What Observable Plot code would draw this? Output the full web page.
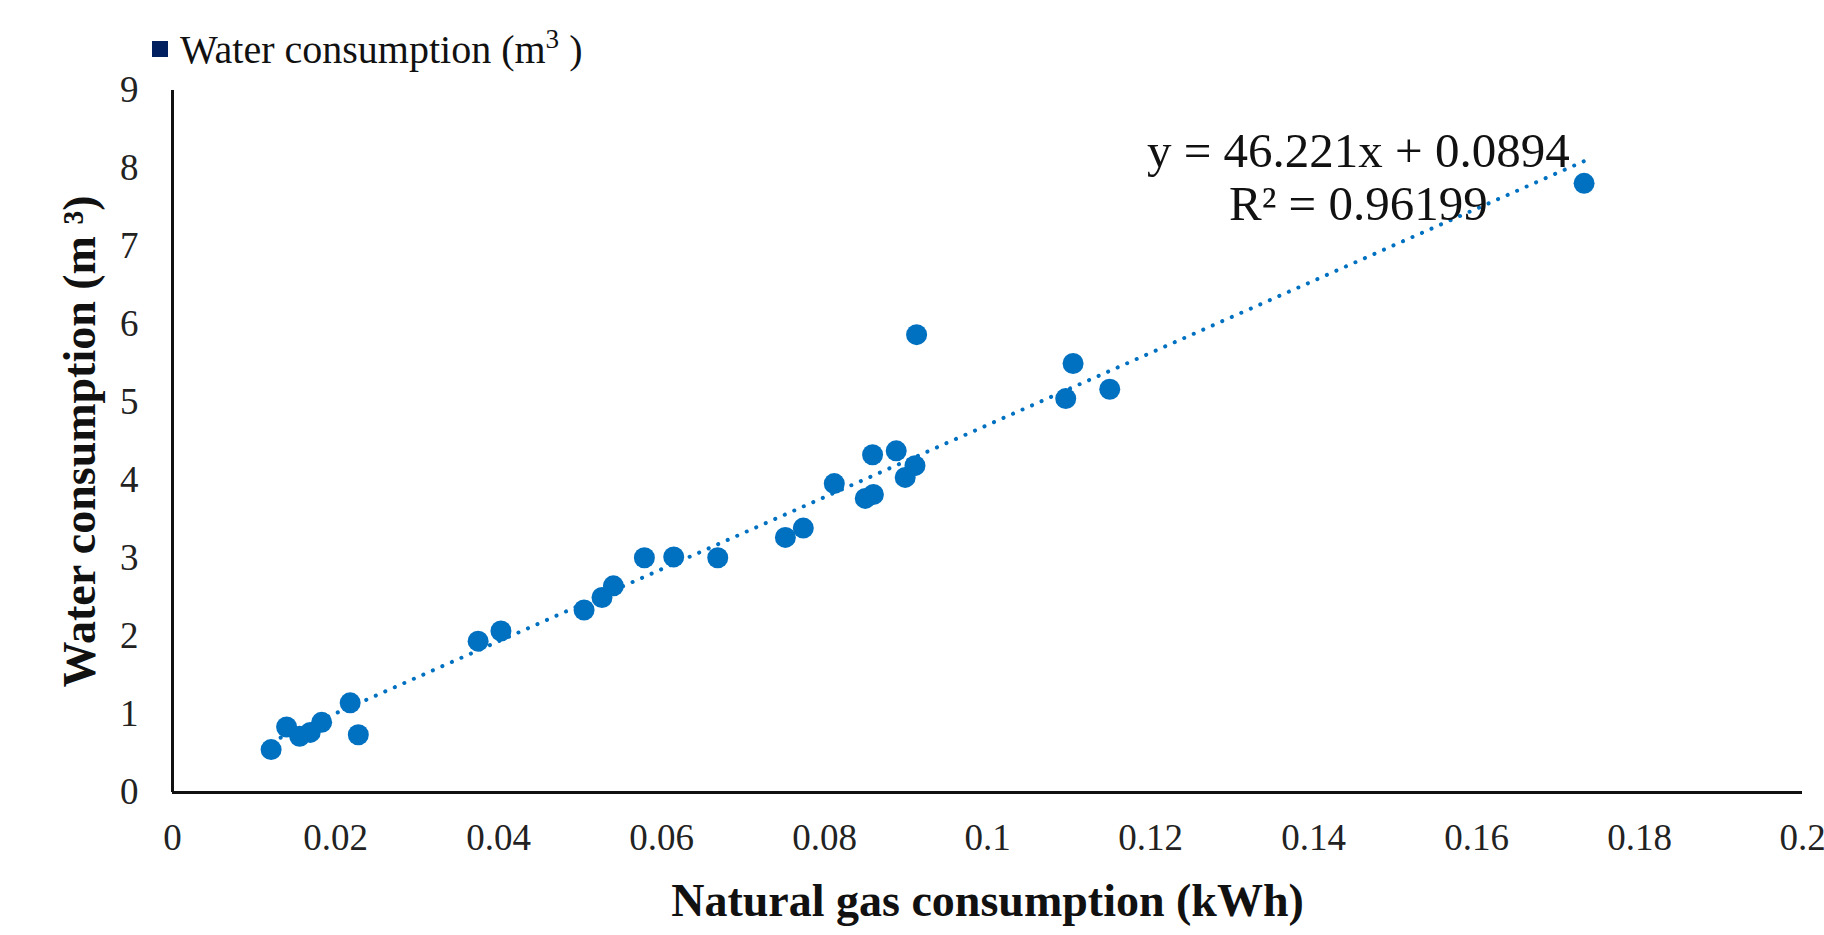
<!DOCTYPE html>
<html>
<head>
<meta charset="utf-8">
<script src="https://cdn.jsdelivr.net/npm/d3@7"></script>
<script src="https://cdn.jsdelivr.net/npm/@observablehq/plot@0.6"></script>
<style>
  html, body { margin: 0; padding: 0; background: #fff; }
  #legend { position: relative; height: 70px; width: 1824px; font-family: "Liberation Serif", serif; font-size: 40px; color: #111; }
  #legend .sw { position: absolute; left: 152px; top: 41px; width: 16px; height: 16px; background: #002060; }
  #legend .lb { position: absolute; left: 180px; top: 26px; line-height: 48px; white-space: nowrap; }
  #legend sup { font-size: 0.68em; vertical-align: 0.55em; line-height: 0; }
</style>
</head>
<body>
<div id="legend"><span class="sw"></span><span class="lb">Water consumption (m<sup>3</sup> )</span></div>
<div id="chart"></div>
<script>
// Natural gas consumption (kWh) — x values
const gas = [
  0.0121, 0.0140, 0.0156, 0.0169, 0.0183, 0.0218, 0.0228,
  0.0375, 0.0403, 0.0505, 0.0527, 0.0541, 0.0579, 0.0615, 0.0669,
  0.0752, 0.0774, 0.0812, 0.0850, 0.0860, 0.0859, 0.0888, 0.0899,
  0.0911, 0.0913, 0.1096, 0.1105, 0.1150, 0.1732
];
// Water consumption (m3) — y values
const water = [
  0.55, 0.84, 0.72, 0.77, 0.90, 1.15, 0.74,
  1.94, 2.07, 2.34, 2.50, 2.65, 3.01, 3.02, 3.01,
  3.27, 3.39, 3.96, 3.77, 3.82, 4.33, 4.38, 4.04,
  4.19, 5.87, 5.05, 5.50, 5.17, 7.81
];
const xTicks = [0, 0.02, 0.04, 0.06, 0.08, 0.1, 0.12, 0.14, 0.16, 0.18, 0.2];
const yTicks = [0, 1, 2, 3, 4, 5, 6, 7, 8, 9];
const slope = 46.221;
const intercept = 0.0894;
const equationText = "y = 46.221x + 0.0894\nR² = 0.96199";
const xTitle = "Natural gas consumption (kWh)";
const yTitle = "Water consumption (m ³)";

const points = gas.map((g, i) => ({gas: g, water: water[i]}));
const xExt = d3.extent(gas);
const trend = xExt.map(g => ({gas: g, water: slope * g + intercept}));

const blue = "#0070C0";
const chart = Plot.plot({
  width: 1824,
  height: 865,
  marginLeft: 172,
  marginRight: 22,
  marginTop: 20,
  marginBottom: 143,
  style: {fontFamily: "Liberation Serif, serif", fontSize: "37px", color: "#222", background: "#fff", overflow: "visible"},
  x: {domain: [0, 0.2], ticks: xTicks, tickFormat: d => String(+d.toFixed(2)), tickSize: 0, tickPadding: 31, label: null},
  y: {domain: [0, 9], ticks: yTicks, tickSize: 0, tickPadding: 34, label: null},
  marks: [
    Plot.ruleY([0], {stroke: "#111", strokeWidth: 3}),
    Plot.ruleX([0], {stroke: "#111", strokeWidth: 3}),
    Plot.line(trend, {x: "gas", y: "water", stroke: blue, strokeWidth: 4, strokeDasharray: "0.1 10.3", strokeLinecap: "round"}),
    Plot.dot(points, {x: "gas", y: "water", r: 10.5, fill: blue, stroke: "none"}),
    Plot.text([equationText], {x: 0.1455, y: 7.9, text: d => d, fontSize: 49, lineHeight: 1.08, textAnchor: "middle", lineAnchor: "middle", fill: "#111"}),
    Plot.text([xTitle], {frameAnchor: "bottom", dy: 109, text: d => d, fontSize: 46, fontWeight: "bold", fill: "#111", textAnchor: "middle", lineAnchor: "middle"}),
    Plot.text([yTitle], {frameAnchor: "left", dx: -92, rotate: -90, text: d => d, fontSize: 46, fontWeight: "bold", fill: "#111", textAnchor: "middle", lineAnchor: "middle"})
  ]
});
document.getElementById("chart").appendChild(chart);
</script>
</body>
</html>
